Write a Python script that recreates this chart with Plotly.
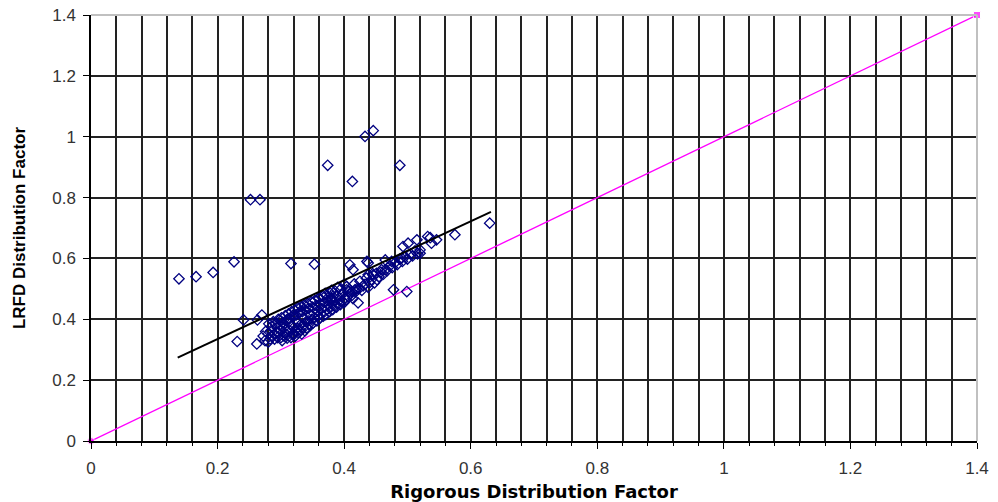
import plotly.graph_objects as go

# Measured points (Rigorous DF, LRFD DF)
rig_x = [
    0.139, 0.166, 0.193, 0.226, 0.316, 0.353,
    0.252, 0.267, 0.374, 0.413, 0.433, 0.446, 0.488,
    0.241, 0.263, 0.270, 0.231, 0.262,
    0.478, 0.499,
    0.630, 0.575, 0.546, 0.538, 0.532, 0.536, 0.515, 0.520, 0.520, 0.501, 0.493,
    0.491, 0.475, 0.465, 0.459, 0.451, 0.445, 0.438, 0.436, 0.438, 0.409, 0.414,
    0.412, 0.404, 0.417, 0.380, 0.374, 0.382, 0.422,
    0.272, 0.276, 0.280, 0.281, 0.284, 0.286, 0.288, 0.290, 0.292, 0.294, 0.296,
    0.298, 0.300, 0.301, 0.303, 0.305, 0.307, 0.309, 0.310, 0.312, 0.314, 0.315,
    0.317, 0.319, 0.320, 0.322, 0.324, 0.325, 0.327, 0.329, 0.330, 0.332, 0.334,
    0.335, 0.337, 0.339, 0.340, 0.342, 0.344, 0.346, 0.348, 0.350, 0.352, 0.354,
    0.356, 0.358, 0.360, 0.362, 0.364, 0.366, 0.368, 0.370, 0.372, 0.374, 0.376,
    0.378, 0.380, 0.383, 0.386, 0.389, 0.392, 0.395, 0.398, 0.401, 0.404, 0.408,
    0.412, 0.416, 0.420, 0.425, 0.430, 0.435, 0.440, 0.446, 0.452, 0.458, 0.465,
    0.472, 0.480, 0.488, 0.496, 0.505, 0.512,
    0.283, 0.295, 0.305, 0.318, 0.310, 0.325, 0.335, 0.345,
    0.275, 0.280, 0.285, 0.290, 0.295, 0.300, 0.302, 0.306, 0.310, 0.313, 0.316,
    0.320, 0.323, 0.326, 0.328, 0.331, 0.333, 0.336, 0.338, 0.341, 0.343, 0.347,
    0.349, 0.351, 0.353, 0.357, 0.359, 0.361, 0.363, 0.367, 0.369, 0.371, 0.373,
    0.377, 0.379, 0.382, 0.385, 0.388, 0.391, 0.394, 0.397, 0.400, 0.403, 0.406,
    0.410, 0.414, 0.418, 0.423, 0.428, 0.433, 0.438, 0.443, 0.448, 0.455, 0.462,
    0.468, 0.476, 0.484, 0.492, 0.500, 0.508, 0.516,
    0.300, 0.310, 0.320, 0.330, 0.340, 0.350, 0.360, 0.370, 0.380, 0.390, 0.400,
]
lrfd_y = [
    0.533, 0.540, 0.554, 0.589, 0.583, 0.581,
    0.793, 0.793, 0.906, 0.853, 1.001, 1.020, 0.906,
    0.398, 0.398, 0.414, 0.327, 0.319,
    0.497, 0.491,
    0.716, 0.678, 0.661, 0.650, 0.672, 0.668, 0.661, 0.628, 0.617, 0.650, 0.639,
    0.601, 0.590, 0.595, 0.563, 0.551, 0.550, 0.585, 0.590, 0.546, 0.579, 0.563,
    0.491, 0.497, 0.497, 0.464, 0.470, 0.475, 0.454,
    0.345, 0.360, 0.352, 0.385, 0.362, 0.378, 0.392, 0.350, 0.385, 0.372, 0.400,
    0.380, 0.365, 0.405, 0.388, 0.372, 0.412, 0.395, 0.360, 0.418, 0.402, 0.385,
    0.425, 0.408, 0.372, 0.430, 0.414, 0.395, 0.438, 0.420, 0.380, 0.442, 0.425,
    0.405, 0.448, 0.430, 0.392, 0.452, 0.436, 0.415, 0.458, 0.440, 0.420, 0.462,
    0.446, 0.428, 0.468, 0.452, 0.435, 0.475, 0.456, 0.442, 0.480, 0.462, 0.448,
    0.486, 0.468, 0.455, 0.492, 0.476, 0.462, 0.500, 0.484, 0.470, 0.508, 0.492,
    0.478, 0.516, 0.500, 0.525, 0.510, 0.535, 0.520, 0.545, 0.530, 0.555, 0.562,
    0.575, 0.585, 0.598, 0.605, 0.615, 0.625,
    0.335, 0.340, 0.345, 0.350, 0.338, 0.360, 0.370, 0.385,
    0.330, 0.325, 0.345, 0.335, 0.355, 0.340, 0.330, 0.355, 0.348, 0.365, 0.340,
    0.355, 0.345, 0.370, 0.355, 0.365, 0.352, 0.380, 0.362, 0.372, 0.395, 0.380,
    0.400, 0.388, 0.405, 0.395, 0.412, 0.402, 0.418, 0.410, 0.425, 0.415, 0.432,
    0.425, 0.440, 0.432, 0.445, 0.440, 0.452, 0.448, 0.460, 0.455, 0.465, 0.475,
    0.485, 0.468, 0.490, 0.500, 0.495, 0.515, 0.505, 0.530, 0.520, 0.540, 0.548,
    0.560, 0.570, 0.580, 0.590, 0.598, 0.608, 0.615,
    0.395, 0.400, 0.415, 0.425, 0.440, 0.455, 0.470, 0.485, 0.495, 0.505, 0.515,
]

# Linear trend line end points
trend_x = [0.137, 0.632]
trend_y = [0.274, 0.753]

# Equality line
eq_x = [0.0, 1.4]
eq_y = [0.0, 1.4]

x_ticks = [0, 0.2, 0.4, 0.6, 0.8, 1.0, 1.2, 1.4]
x_tick_text = ["0", "0.2", "0.4", "0.6", "0.8", "1", "1.2", "1.4"]
y_ticks = [0, 0.2, 0.4, 0.6, 0.8, 1.0, 1.2, 1.4]
y_tick_text = ["0", "0.2", "0.4", "0.6", "0.8", "1", "1.2", "1.4"]

fig = go.Figure()

fig.add_trace(go.Scatter(
    x=eq_x, y=eq_y, mode="lines+markers",
    line=dict(color="#ff00ff", width=1.3),
    marker=dict(color="#ff00ff", size=[7, 7], symbol=["circle", "square"]),
    cliponaxis=False, showlegend=False, hoverinfo="skip",
))

fig.add_trace(go.Scatter(
    x=rig_x, y=lrfd_y, mode="markers",
    marker=dict(symbol="diamond-open", color="#000080", size=8,
                line=dict(color="#000080", width=1.3)),
    showlegend=False,
))

fig.add_trace(go.Scatter(
    x=trend_x, y=trend_y, mode="lines",
    line=dict(color="black", width=2),
    showlegend=False, hoverinfo="skip",
))

font = dict(family="Liberation Sans, Arial, sans-serif", size=17, color="#333333")

fig.update_layout(
    width=998, height=502,
    margin=dict(l=91, r=21, t=15, b=61),
    paper_bgcolor="white", plot_bgcolor="white",
    font=font,
    xaxis=dict(
        range=[0, 1.4], tickvals=x_ticks, ticktext=x_tick_text,
        automargin=False,
        showgrid=True, gridcolor="#222222", gridwidth=1.5,
        minor=dict(dtick=0.04, tick0=0, showgrid=True, gridcolor="#222222", gridwidth=1.5,
                   ticks="outside", ticklen=3, tickcolor="black"),
        showline=True, linecolor="black", linewidth=1.5,
        ticks="outside", ticklen=6, tickcolor="black",
        ticklabelstandoff=5,
        zeroline=False,
        title=dict(text="<b>Rigorous Distribution Factor</b>",
                   font=dict(family="DejaVu Sans, sans-serif", size=18, color="black"),
                   standoff=9),
    ),
    yaxis=dict(
        range=[0, 1.4], tickvals=y_ticks, ticktext=y_tick_text,
        automargin=False,
        showgrid=True, gridcolor="#222222", gridwidth=1.5,
        showline=True, linecolor="black", linewidth=1.5,
        ticks="outside", ticklen=6, tickcolor="black",
        ticklabelstandoff=4,
        zeroline=False,
        title=dict(text="<b>LRFD Distribution Factor</b>",
                   font=dict(family="Liberation Sans Narrow, Liberation Sans, Arial, sans-serif",
                             size=17, color="black"),
                   standoff=22),
    ),
    shapes=[
        dict(type="line", xref="paper", yref="paper", x0=0, x1=1, y0=1, y1=1,
             line=dict(color="#c0c0c0", width=2)),
        dict(type="line", xref="paper", yref="paper", x0=1, x1=1, y0=0, y1=1,
             line=dict(color="#c0c0c0", width=2)),
    ],
)

fig.write_html("out.html")
